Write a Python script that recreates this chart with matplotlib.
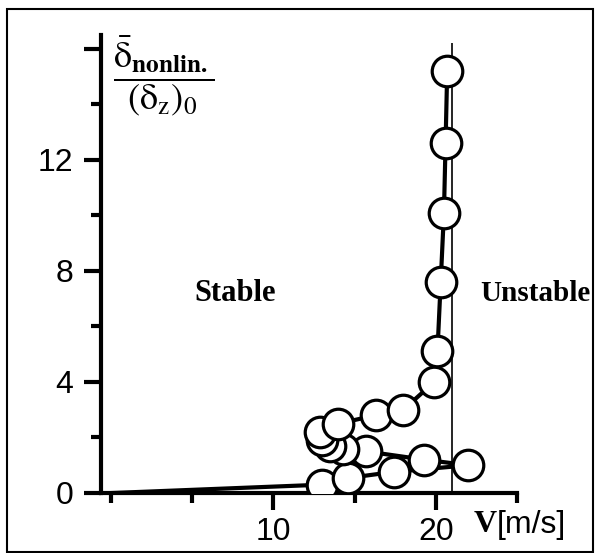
import matplotlib.pyplot as plt
from matplotlib.patches import Rectangle
from matplotlib.ticker import FixedLocator, NullFormatter

plt.rcParams['mathtext.fontset'] = 'stix'

# flow speed V [m/s] and normalised nonlinear deflection, in path order
speed = [0.1, 13.0, 14.6, 17.4, 22.0, 19.3, 15.7, 14.3, 13.5, 13.0, 12.9,
         14.0, 16.3, 18.0, 19.9, 20.1, 20.3, 20.5, 20.6, 20.7]
deflection = [0.0, 0.3, 0.54, 0.76, 1.0, 1.2, 1.5, 1.6, 1.7, 1.9, 2.2,
              2.5, 2.8, 3.0, 4.0, 5.1, 7.6, 10.1, 12.6, 15.2]

flutter_speed = 21.0
x_major = [10, 20]
x_minor = [0, 5, 15, 25]
y_major = [0, 4, 8, 12, 16]
y_labels = ['0', '4', '8', '12', '']
y_minor = [2, 6, 10, 14]

fig = plt.figure(figsize=(5.95, 5.53), dpi=100)
ax = fig.add_axes([0.17, 0.1085, 0.699, 0.828])

ax.plot(speed, deflection, color='black', lw=3, zorder=2)
ax.plot(speed[1:], deflection[1:], 'o', ms=22, mfc='white', mec='black',
        mew=2.3, zorder=3)
ax.vlines(flutter_speed, 0, 16.2, color='black', lw=1.2, zorder=1)

ax.set_xlim(-0.6, 25)
ax.set_ylim(0, 16.5)
for s in ['top', 'right']:
    ax.spines[s].set_visible(False)
for s in ['left', 'bottom']:
    ax.spines[s].set_linewidth(3)

ax.xaxis.set_major_locator(FixedLocator(x_major))
ax.xaxis.set_minor_locator(FixedLocator(x_minor))
ax.xaxis.set_minor_formatter(NullFormatter())
ax.set_xticklabels([str(v) for v in x_major])
ax.yaxis.set_major_locator(FixedLocator(y_major))
ax.yaxis.set_minor_locator(FixedLocator(y_minor))
ax.set_yticklabels(y_labels)
ax.tick_params(axis='y', which='major', length=12, width=3, labelsize=23,
               pad=8, labelfontfamily='Liberation Sans')
ax.tick_params(axis='x', which='major', length=12, width=3, labelsize=23,
               pad=5, labelfontfamily='Liberation Sans')
ax.tick_params(which='minor', length=7, width=3)

ax.text(7.65, 7.2, 'Stable', ha='center', va='center', fontsize=22,
        fontweight='bold', family='Liberation Serif')
ax.text(26.1, 7.2, 'Unstable', ha='center', va='center', fontsize=21,
        fontweight='bold', family='Liberation Serif', clip_on=False)

ax.text(3.25, 15.0,
        r'$\dfrac{\bar{\mathrm{\delta}}_{\mathbf{nonlin.}}}'
        r'{(\mathrm{\delta}_{\mathrm{z}})_{0}}$',
        ha='center', va='center', fontsize=26)

ax.text(22.3, -1.15, 'V', ha='left', va='center', fontsize=23,
        fontweight='bold', family='Liberation Serif', clip_on=False)
ax.text(23.75, -1.15, '[m/s]', ha='left', va='center', fontsize=23,
        family='Liberation Sans', clip_on=False)

fig.patches.append(Rectangle((7 / 595, 1 / 553), 586 / 595, 543 / 553,
                             transform=fig.transFigure, fill=False,
                             ec='black', lw=1.5))

fig.savefig('out.png', dpi=100)
